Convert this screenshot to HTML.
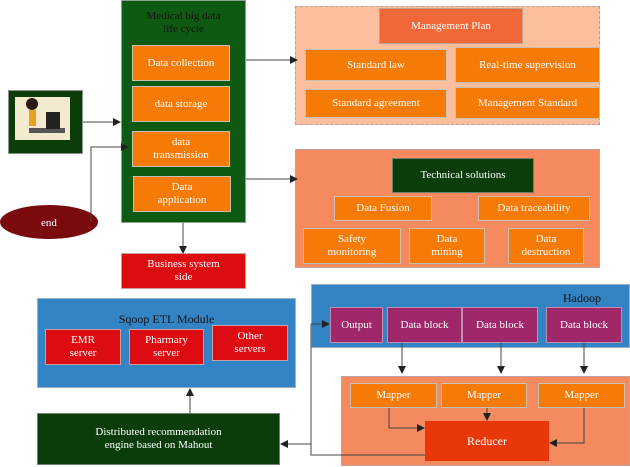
<!DOCTYPE html>
<html><head><meta charset="utf-8"><style>
body{margin:0;width:630px;height:467px;background:#fff;position:relative;overflow:hidden;font-family:"Liberation Serif",serif;}
.b{position:absolute;box-sizing:border-box;display:flex;align-items:center;justify-content:center;text-align:center;color:#fff;font-size:11px;line-height:13px;}
.o{background:#f57a06;border:1px solid #c9c0b0;}
.r{background:#dc0c12;border:1px solid #c9a0a0;}
.p{background:#a0286a;border:1px solid #c090b0;}
svg{position:absolute;left:0;top:0;}
</style></head><body>
<!-- management -->
<div class="b" style="left:295px;top:6px;width:305px;height:119px;background:#fbbf9e;border:1px dashed #b0a0a0"></div>
<div class="b" style="left:379px;top:8px;width:144px;height:36px;background:#f06838;border:1px solid #c0a090">Management Plan</div>
<div class="b o" style="left:305px;top:49px;width:142px;height:32px">Standard law</div>
<div class="b o" style="left:455px;top:47px;width:145px;height:36px">Real-time supervision</div>
<div class="b o" style="left:305px;top:89px;width:142px;height:29px">Standard agreement</div>
<div class="b o" style="left:455px;top:87px;width:145px;height:32px">Management Standard</div>
<!-- technical -->
<div class="b" style="left:295px;top:149px;width:305px;height:119px;background:#f58a5e;border:1px solid #c0a0a0"></div>
<div class="b" style="left:392px;top:158px;width:142px;height:35px;background:#0a3d0a;border:1px solid #708070">Technical solutions</div>
<div class="b o" style="left:334px;top:196px;width:98px;height:25px">Data Fusion</div>
<div class="b o" style="left:478px;top:196px;width:112px;height:25px">Data traceability</div>
<div class="b o" style="left:303px;top:228px;width:98px;height:36px">Safety<br>monitoring</div>
<div class="b o" style="left:409px;top:228px;width:76px;height:36px">Data<br>mining</div>
<div class="b o" style="left:508px;top:228px;width:76px;height:36px">Data<br>destruction</div>
<!-- lifecycle -->
<div class="b" style="left:121px;top:0;width:125px;height:223px;background:#0f5a12;border:1px solid #90a090;align-items:flex-start;padding-top:9px;color:#111">Medical big data<br>life cycle</div>
<div class="b o" style="left:132px;top:45px;width:98px;height:36px">Data collection</div>
<div class="b o" style="left:132px;top:86px;width:98px;height:36px">data storage</div>
<div class="b o" style="left:132px;top:131px;width:98px;height:36px">data<br>transmission</div>
<div class="b o" style="left:133px;top:176px;width:98px;height:36px">Data<br>application</div>
<div class="b r" style="left:121px;top:253px;width:125px;height:36px">Business system<br>side</div>
<!-- picture -->
<div class="b" style="left:8px;top:90px;width:75px;height:64px;background:#0a3d0a;border:1px solid #909090"></div>
<div class="b" style="left:15px;top:97px;width:55px;height:43px;background:#f3ead0"></div>
<svg width="630" height="467">
<g>
<rect x="29" y="128" width="36" height="5" fill="#555"/>
<rect x="46" y="112" width="14" height="17" fill="#222"/>
<ellipse cx="32" cy="104" rx="6" ry="6" fill="#2a1a10"/>
<rect x="29" y="110" width="7" height="16" fill="#e8a020"/>
<ellipse cx="49" cy="222" rx="49" ry="17" fill="#7a0a0e"/>
<text x="49" y="226" fill="#fff" font-size="11" text-anchor="middle" font-family="Liberation Serif,serif">end</text>
</g>
</svg>
<!-- sqoop -->
<div class="b" style="left:37px;top:298px;width:259px;height:90px;background:#3384c4;border:1px solid #a0b0c0;align-items:flex-start;padding-top:14px;color:#111;font-size:12px">Sqoop ETL Module</div>
<div class="b r" style="left:45px;top:329px;width:76px;height:36px">EMR<br>server</div>
<div class="b r" style="left:129px;top:329px;width:75px;height:36px">Pharmary<br>server</div>
<div class="b r" style="left:212px;top:325px;width:76px;height:36px">Other<br>servers</div>
<div class="b" style="left:37px;top:413px;width:243px;height:52px;background:#0a3d0a;border:1px solid #708070">Distributed recommendation<br>engine based on Mahout</div>
<!-- hadoop -->
<div class="b" style="left:311px;top:284px;width:319px;height:64px;background:#3384c4;border:1px solid #a0b0c0;justify-content:flex-end;align-items:flex-start;padding:7px 28px 0 0;color:#111;font-size:12px">Hadoop</div>
<div class="b p" style="left:330px;top:307px;width:53px;height:36px">Output</div>
<div class="b p" style="left:387px;top:307px;width:75px;height:36px">Data block</div>
<div class="b p" style="left:462px;top:307px;width:76px;height:36px">Data block</div>
<div class="b p" style="left:546px;top:307px;width:76px;height:36px">Data block</div>
<div class="b" style="left:341px;top:376px;width:289px;height:90px;background:#f58a5e;border:1px solid #c0a0a0"></div>
<div class="b o" style="left:350px;top:383px;width:87px;height:25px">Mapper</div>
<div class="b o" style="left:441px;top:383px;width:86px;height:25px">Mapper</div>
<div class="b o" style="left:538px;top:383px;width:87px;height:25px">Mapper</div>
<div class="b" style="left:425px;top:421px;width:124px;height:40px;background:#e8380a;font-size:12px">Reducer</div>
<svg width="630" height="467">
<defs><marker id="a" markerWidth="8" markerHeight="8" refX="7" refY="4" orient="auto" markerUnits="userSpaceOnUse"><path d="M0,0 L8,4 L0,8z" fill="#222"/></marker></defs>
<g stroke="#444" stroke-width="1" fill="none" marker-end="url(#a)">
<path d="M83,122 H120"/>
<path d="M91,222 V147 H128"/>
<path d="M246,60 H297"/>
<path d="M246,179 H297"/>
<path d="M183,223 V253"/>
<path d="M190,413 V389"/>
<path d="M402,343 V373"/>
<path d="M501,343 V373"/>
<path d="M584,343 V373"/>
<path d="M389,408 V428 H424"/>
<path d="M487,408 V420"/>
<path d="M584,408 V443 H550"/>
<path d="M425,455 H311 V324 H329"/>
<path d="M311,444 H281"/>
</g>
</svg>
</body></html>
